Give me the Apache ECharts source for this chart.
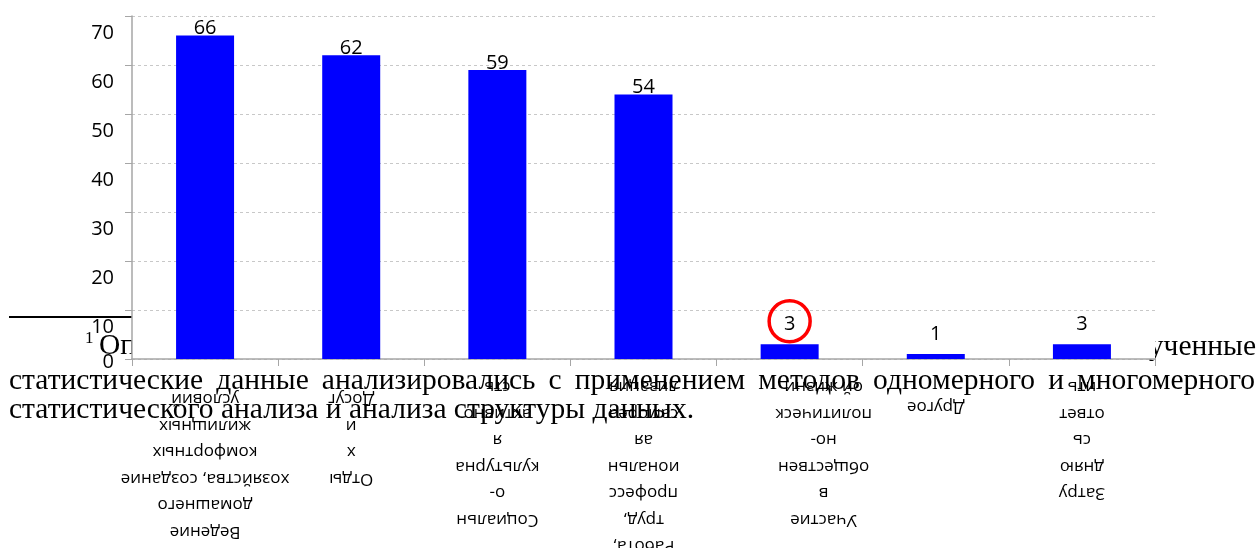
<!DOCTYPE html>
<html><head><meta charset="utf-8">
<script src="https://cdn.jsdelivr.net/npm/echarts@6/dist/echarts.min.js"></script>
<style>html,body{margin:0;padding:0;background:#fff}#c{width:1259px;height:548px}</style>
</head><body><div id="c"></div>
<script>
// ---- data ----
const categories = [
  'Ведение\nдомашнего\nхозяйства, создание\nкомфортных\nжилищных\nусловий',
  'Отды\nх\nи\nДосуг',
  'Социальн\nо-\nкультурна\nя\nактивно\nсть',
  'Работа,\nтруд,\nпрофесс\nиональн\nая\nсамореа\nлизация',
  'Участие\nв\nобществен\nно-\nполитическ\nой жизни',
  'Другое',
  'Затру\nдняю\nсь\nответ\nить'
];
const values = [66, 62, 59, 54, 3, 1, 3];
const yTickLabels = [0, 10, 20, 30, 40, 50, 60, 70];
const circledIndex = 4;
// overlapping page text (document behind the chart)
const footnoteMark = '1';
const line0Start = 'Оп';
const line0End = 'ученные';
const line1Words = ['статистические','данные','анализировались','с','применением','методов','одномерного','и','многомерного'];
const line2Text = 'статистического анализа и анализа структуры данных.';

// ---- layout / style ----
const SANS = '"Open Sans", "Noto Sans", sans-serif';
const SERIF = '"Liberation Serif", "DejaVu Serif", serif';
const serifSize = 29.5;
const labelNudge = {0: [0,0,12,0], 1: [0,0,12,0], 4: [0,68,0,0], 5: [0,0,20,0]};

const chart = echarts.init(document.getElementById('c'), null, {renderer: 'canvas'});

// justify line 1 between page margins x=9 and x=1255
const cv = document.createElement('canvas').getContext('2d');
cv.font = serifSize + 'px ' + SERIF;
const widths = line1Words.map(w => cv.measureText(w).width);
const total = widths.reduce((a, b) => a + b, 0);
const gap = (1255 - 9 - total) / (line1Words.length - 1);
const pageText = [];
const serifStyle = (text, align) => ({text: text, font: serifSize + 'px ' + SERIF, fill: '#000', textAlign: align || 'left', textVerticalAlign: 'bottom'});
let xx = 9;
line1Words.forEach((w, i) => {
  pageText.push({type: 'text', x: xx, y: 396, z: -10, style: serifStyle(w)});
  xx += widths[i] + gap;
});
pageText.push({type: 'text', x: 9, y: 425, z: -10, style: serifStyle(line2Text)});
pageText.push({type: 'text', x: 99, y: 361, z: -10, style: serifStyle(line0Start)});
pageText.push({type: 'text', x: 1256, y: 362, z: -10, style: serifStyle(line0End, 'right')});
pageText.push({type: 'text', x: 85, y: 347, z: -10,
  style: {text: footnoteMark, font: '17px ' + SERIF, fill: '#000', textAlign: 'left', textVerticalAlign: 'bottom'}});
pageText.push({type: 'line', z: -10, shape: {x1: 9, y1: 317, x2: 132, y2: 317}, style: {stroke: '#000', lineWidth: 2}});

const option = {
  animation: false,
  backgroundColor: '#fff',
  grid: {left: 132, right: 104, top: 16, bottom: 189, outerBoundsMode: 'none', containLabel: false,
         show: true, backgroundColor: '#fff', borderWidth: 0},
  xAxis: {
    type: 'category',
    data: categories.map((c, i) => labelNudge[i] ? {value: c, textStyle: {padding: labelNudge[i]}} : c),
    axisLine: {lineStyle: {color: '#a6a6a6', width: 1.5}},
    axisTick: {show: true, length: 7, alignWithLabel: false, lineStyle: {color: '#a6a6a6'}},
    axisLabel: {interval: 0, rotate: 180, margin: 15, color: '#000', fontFamily: SANS, fontSize: 17, lineHeight: 26.5}
  },
  yAxis: {
    type: 'value', min: 0, max: 70, interval: 10,
    axisLine: {show: true, lineStyle: {color: '#a6a6a6', width: 1.5}},
    axisTick: {show: true, length: 7, lineStyle: {color: '#a6a6a6'}},
    splitLine: {show: true, lineStyle: {color: '#c8c8c8', type: [3, 3], width: 1}},
    axisLabel: {
      margin: 18, verticalAlign: 'top', color: '#000', fontFamily: SANS, fontSize: 20,
      formatter: v => (v === yTickLabels[0] ? '{z|' + v + '}' : '{n|' + v + '}'),
      rich: {
        n: {lineHeight: 34, fontSize: 20, fontFamily: SANS, color: '#000'},
        z: {lineHeight: 6, fontSize: 20, fontFamily: SANS, color: '#000'}
      }
    }
  },
  series: [{
    type: 'bar',
    barWidth: 58,
    itemStyle: {color: '#0000ff'},
    data: values.map(v => ({value: v, label: {distance: v < 10 ? 10 : -3}})),
    label: {show: true, position: 'top', color: '#000', fontFamily: SANS, fontSize: 20},
    markPoint: {
      symbol: 'circle', symbolSize: 41, symbolOffset: [0, -23], silent: true,
      itemStyle: {color: 'rgba(0,0,0,0)', borderColor: '#ff0000', borderWidth: 3.5},
      label: {show: false},
      data: [{coord: [circledIndex, values[circledIndex]]}]
    }
  }],
  graphic: pageText
};
chart.setOption(option);
</script>
</body></html>
